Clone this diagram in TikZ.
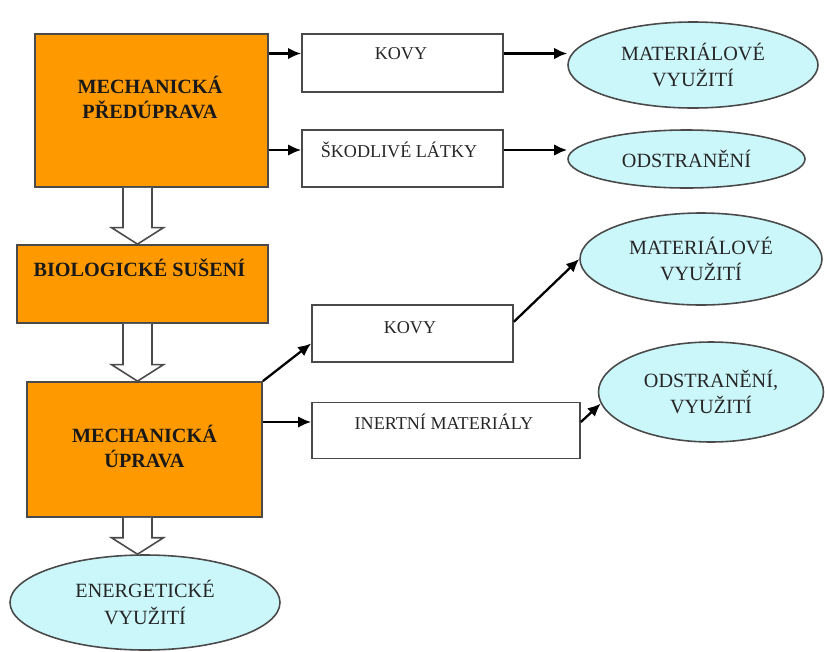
\documentclass[tikz,border=0pt]{standalone}
\usepackage{fontspec}
\setmainfont{Liberation Serif}
\usepackage{tikz}
\usetikzlibrary{arrows,arrows.meta}
\usetikzlibrary{shapes}
\usetikzlibrary{calc}
\definecolor{procorange}{HTML}{FF9900}
\definecolor{outcyan}{HTML}{CCF7FA}
\definecolor{edgegray}{HTML}{4A4A4A}
\tikzstyle{line} = [draw, -{Latex[length=2.6mm,width=2.3mm]}, line width=1.3pt]
\tikzstyle{process} = [draw=edgegray, line width=1.0pt, fill=procorange, rectangle, inner sep=0pt]
\tikzstyle{stream} = [draw=edgegray, line width=1.0pt, fill=white, rectangle, inner sep=0pt]
\tikzstyle{outcome} = [draw=edgegray, line width=0.9pt, fill=outcyan, ellipse, inner sep=0pt, align=center, text=black!85, font=\fontsize{11.5}{15}\selectfont]
\tikzstyle{boldtext} = [align=center, text=black!90, font=\fontsize{11.5}{14.2}\selectfont\bfseries]
\tikzstyle{plaintext} = [text=black!85, font=\fontsize{10.3}{12}\selectfont]
\tikzstyle{hollow} = [draw=edgegray, line width=0.9pt, fill=white]
\newcommand{\hollowarrow}[2]{%
	\draw[hollow] ($(#1)+(-0.29,0)$) -- ($(#2)+(-0.29,0.33)$) -- ($(#2)+(-0.52,0.33)$) -- (#2)
	-- ($(#2)+(0.52,0.33)$) -- ($(#2)+(0.29,0.33)$) -- ($(#1)+(0.29,0)$);}

\begin{document}
\begin{tikzpicture}
	\useasboundingbox (0,0) rectangle (16.5,-13.04);
	% -------------- Mechanical pretreatment --------------
	\node[process, minimum width=4.66cm, minimum height=3.06cm] (predup) at (3.03,-2.21) {};
	\node[boldtext] (predupt) at (3.0,-1.95) {MECHANICKÁ\\PŘEDÚPRAVA};
	\node[stream, minimum width=4.02cm, minimum height=1.16cm] (kovyA) at (8.05,-1.26) {};
	\node[plaintext] (kovyAt) at (8.02,-1.07) {KOVY};
	\node[stream, minimum width=4.02cm, minimum height=1.14cm] (skodl) at (8.05,-3.17) {};
	\node[plaintext] (skodlt) at (7.98,-3.0) {ŠKODLIVÉ LÁTKY};
	\node[outcome, minimum width=5.0cm, minimum height=1.72cm] (matA) at (13.86,-1.3) {MATERIÁLOVÉ\\VYUŽITÍ};
	\node[outcome, minimum width=4.74cm, minimum height=1.16cm] (odstrA) at (13.73,-3.18) {ODSTRANĚNÍ};
	\path[line] (predup.east |- kovyAt) -- (kovyA.west |- kovyAt);
	\path[line] (predup.east |- skodlt) -- (skodl.west |- skodlt);
	\path[line] (kovyA.east |- kovyAt) -- (matA.west |- kovyAt);
	\path[line] (skodl.east |- skodlt) -- (odstrA.west |- skodlt);
	% -------------- Biological drying --------------
	\node[process, minimum width=5.02cm, minimum height=1.56cm] (suseni) at (2.85,-5.68) {};
	\node[boldtext] (susenit) at (2.79,-5.36) {BIOLOGICKÉ SUŠENÍ};
	% -------------- Mechanical treatment --------------
	\node[process, minimum width=4.7cm, minimum height=2.7cm] (uprava) at (2.89,-8.99) {};
	\node[boldtext] (upravat) at (2.89,-8.93) {MECHANICKÁ\\ÚPRAVA};
	\node[stream, minimum width=4.02cm, minimum height=1.14cm] (kovyB) at (8.25,-6.67) {};
	\node[plaintext] (kovyBt) at (8.2,-6.56) {KOVY};
	\node[stream, minimum width=5.36cm, minimum height=1.12cm] (inert) at (8.92,-8.61) {};
	\node[plaintext] (inertt) at (8.88,-8.44) {INERTNÍ MATERIÁLY};
	\node[outcome, minimum width=4.84cm, minimum height=1.84cm] (matB) at (14.02,-5.18) {MATERIÁLOVÉ\\VYUŽITÍ};
	\node[outcome, minimum width=4.5cm, minimum height=2.0cm] (odstrB) at (14.22,-7.84) {ODSTRANĚNÍ,\\VYUŽITÍ};
	\path[line] (uprava.north east) -- ($(kovyB.south west)!0.33!(kovyB.north west)$);
	\path[line] (uprava.east |- inertt) -- (inert.west |- inertt);
	\path[line] ($(kovyB.north east)!0.3!(kovyB.south east)$) -- (matB.west);
	\path[line] (inert.east |- inertt) -- (odstrB.186);
	% -------------- Energy use --------------
	\node[outcome, minimum width=5.4cm, minimum height=1.9cm] (energ) at (2.9,-12.05) {ENERGETICKÉ\\VYUŽITÍ};
	% -------------- Hollow arrows --------------
	\coordinate (hA) at (2.75,0 |- predup.south);
	\coordinate (hB) at (2.75,0 |- suseni.north);
	\coordinate (hC) at (2.75,0 |- suseni.south);
	\coordinate (hD) at (2.75,0 |- uprava.north);
	\coordinate (hE) at (2.75,0 |- uprava.south);
	\coordinate (hF) at (2.75,0 |- energ.north);
	\hollowarrow{hA}{hB}
	\hollowarrow{hC}{hD}
	\hollowarrow{hE}{hF}
\end{tikzpicture}
\end{document}
